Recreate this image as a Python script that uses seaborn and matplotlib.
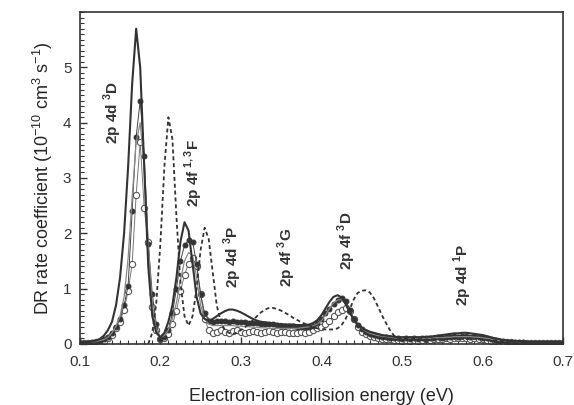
import numpy as np
import pandas as pd
import matplotlib
matplotlib.use('Agg')
import matplotlib.pyplot as plt
from matplotlib.ticker import MultipleLocator
import seaborn as sns

# energy grid (eV), 0.005 steps from 0.10 to 0.70
energy = np.round(np.arange(0.100, 0.7001, 0.005), 3)

# theory, thick solid
theory_a = [
    0.02, 0.02, 0.03, 0.04, 0.06, 0.09, 0.15, 0.25, 0.40, 0.70,
    1.20, 2.00, 3.20, 4.70, 5.70, 5.00, 3.20, 1.40, 0.50, 0.20,
    0.12, 0.20, 0.40, 0.70, 1.20, 1.85, 2.20, 2.05, 1.45, 0.85,
    0.55, 0.45, 0.42, 0.45, 0.50, 0.55, 0.59, 0.62, 0.62, 0.60,
    0.57, 0.53, 0.49, 0.45, 0.42, 0.40, 0.39, 0.38, 0.37, 0.36,
    0.36, 0.35, 0.35, 0.35, 0.34, 0.34, 0.34, 0.35, 0.38, 0.43,
    0.52, 0.64, 0.76, 0.85, 0.88, 0.84, 0.72, 0.57, 0.44, 0.35,
    0.29, 0.25, 0.22, 0.20, 0.18, 0.16, 0.15, 0.14, 0.13, 0.12,
    0.12, 0.12, 0.12, 0.12, 0.12, 0.12, 0.13, 0.13, 0.14, 0.15,
    0.16, 0.17, 0.18, 0.19, 0.19, 0.20, 0.20, 0.19, 0.18, 0.17,
    0.16, 0.14, 0.12, 0.10, 0.09, 0.07, 0.06, 0.05, 0.05, 0.04,
    0.04, 0.03, 0.03, 0.03, 0.03, 0.02, 0.02, 0.02, 0.02, 0.02,
    0.02,
]

# theory, dashed (starts at 0.185 eV)
nan = np.nan
theory_b = [
    nan, nan, nan, nan, nan, nan, nan, nan, nan, nan,
    nan, nan, nan, nan, nan, nan, nan, 0.00, 0.20, 0.75,
    1.80, 3.20, 4.10, 3.70, 2.30, 1.10, 0.50, 0.33, 0.50, 1.00,
    1.70, 2.10, 1.90, 1.30, 0.70, 0.40, 0.25, 0.20, 0.18, 0.20,
    0.25, 0.30, 0.36, 0.43, 0.50, 0.57, 0.62, 0.65, 0.65, 0.63,
    0.60, 0.56, 0.52, 0.47, 0.43, 0.39, 0.36, 0.33, 0.30, 0.28,
    0.27, 0.26, 0.26, 0.26, 0.28, 0.34, 0.45, 0.62, 0.80, 0.92,
    0.96, 0.97, 0.93, 0.83, 0.68, 0.52, 0.38, 0.25, 0.15, 0.11,
    0.10, 0.10, 0.09, 0.09, 0.09, 0.08, 0.08, 0.08, 0.08, 0.08,
    0.08, 0.08, 0.09, 0.09, 0.09, 0.09, 0.09, 0.09, 0.09, 0.08,
    0.08, 0.07, 0.07, 0.06, 0.05, 0.05, 0.04, 0.04, 0.03, 0.03,
    0.03, 0.03, 0.03, 0.02, 0.02, 0.02, 0.02, 0.02, 0.02, 0.02,
    0.02,
]

# theory convolved, thin grey solid
theory_c = [
    0.02, 0.02, 0.02, 0.03, 0.04, 0.06, 0.08, 0.12, 0.20, 0.32,
    0.50, 0.85, 1.55, 2.65, 3.65, 4.00, 3.20, 1.80, 0.70, 0.25,
    0.12, 0.15, 0.25, 0.45, 0.75, 1.15, 1.50, 1.65, 1.60, 1.20,
    0.70, 0.45, 0.36, 0.33, 0.33, 0.33, 0.33, 0.33, 0.33, 0.32,
    0.32, 0.31, 0.31, 0.30, 0.30, 0.29, 0.29, 0.28, 0.28, 0.28,
    0.28, 0.28, 0.28, 0.28, 0.28, 0.29, 0.30, 0.31, 0.33, 0.36,
    0.42, 0.52, 0.64, 0.74, 0.79, 0.80, 0.72, 0.58, 0.44, 0.35,
    0.28, 0.23, 0.19, 0.17, 0.15, 0.14, 0.13, 0.12, 0.11, 0.10,
    0.10, 0.10, 0.10, 0.10, 0.10, 0.10, 0.10, 0.10, 0.11, 0.11,
    0.11, 0.12, 0.12, 0.13, 0.13, 0.13, 0.13, 0.13, 0.12, 0.12,
    0.11, 0.10, 0.09, 0.07, 0.06, 0.05, 0.05, 0.04, 0.04, 0.03,
    0.03, 0.03, 0.02, 0.02, 0.02, 0.02, 0.02, 0.02, 0.02, 0.02,
    0.02,
]

# experiment, filled circles
exp_filled = [
    0.02, 0.02, 0.02, 0.03, 0.04, 0.05, 0.08, 0.12, 0.20, 0.30,
    0.45, 0.70, 1.05, 2.40, 3.75, 4.40, 3.40, 1.80, 0.90, 0.35,
    0.08, 0.12, 0.25, 0.55, 1.00, 1.50, 1.78, 1.88, 1.85, 1.45,
    0.90, 0.55, 0.42, 0.40, 0.42, 0.41, 0.42, 0.40, 0.42, 0.40,
    0.40, 0.39, 0.38, 0.38, 0.37, 0.36, 0.36, 0.35, 0.35, 0.34,
    0.33, 0.33, 0.32, 0.32, 0.31, 0.31, 0.30, 0.31, 0.33, 0.38,
    0.45, 0.55, 0.63, 0.72, 0.80, 0.83, 0.78, 0.62, 0.45, 0.34,
    0.27, 0.22, 0.18, 0.16, 0.14, 0.13, 0.12, 0.11, 0.10, 0.10,
    0.09, 0.10, 0.08, 0.10, 0.09, 0.10, 0.09, 0.11, 0.10, 0.12,
    0.11, 0.13, 0.12, 0.14, 0.13, 0.15, 0.14, 0.13, 0.14, 0.12,
    0.11, 0.10, 0.08, 0.07, 0.06, 0.05, 0.04, 0.04, 0.03, 0.03,
    0.03, 0.02, 0.02, 0.02, 0.02, 0.02, 0.02, 0.02, 0.02, 0.02,
    0.02,
]

# experiment, open circles
exp_open = [
    0.01, 0.01, 0.02, 0.02, 0.03, 0.04, 0.06, 0.10, 0.16, 0.28,
    0.40, 0.62, 0.95, 1.45, 2.70, 3.65, 2.45, 1.85, 0.67, 0.25,
    0.08, 0.10, 0.18, 0.35, 0.60, 0.95, 1.25, 1.45, 1.55, 1.40,
    0.90, 0.45, 0.25, 0.20, 0.22, 0.25, 0.22, 0.20, 0.23, 0.25,
    0.22, 0.20, 0.22, 0.24, 0.22, 0.20, 0.22, 0.23, 0.21, 0.20,
    0.21, 0.22, 0.20, 0.19, 0.20, 0.21, 0.20, 0.22, 0.25, 0.28,
    0.30, 0.35, 0.42, 0.50, 0.57, 0.62, 0.65, 0.60, 0.45, 0.30,
    0.22, 0.17, 0.14, 0.12, 0.10, 0.09, 0.08, 0.08, 0.07, 0.07,
    0.06, 0.07, 0.06, 0.07, 0.06, 0.07, 0.08, 0.07, 0.08, 0.09,
    0.08, 0.10, 0.09, 0.11, 0.10, 0.11, 0.10, 0.09, 0.10, 0.09,
    0.08, 0.07, 0.06, 0.05, 0.04, 0.04, 0.03, 0.03, 0.02, 0.02,
    0.02, 0.02, 0.02, 0.02, 0.02, 0.02, 0.02, 0.02, 0.02, 0.02,
    0.02,
]

# resonance labels
res_labels = [r'2p 4d $^{\mathbf{3}}$D', r'2p 4f $^{\mathbf{1,3}}$F', r'2p 4d $^{\mathbf{3}}$P',
              r'2p 4f $^{\mathbf{3}}$G', r'2p 4f $^{\mathbf{3}}$D', r'2p 4d $^{\mathbf{1}}$P']
res_x = [0.141, 0.241, 0.290, 0.357, 0.431, 0.576]
res_y = [4.19, 3.10, 1.57, 1.57, 1.86, 1.25]

sns.set_style('ticks')
plt.rcParams['font.family'] = ['Liberation Sans', 'DejaVu Sans']
plt.rcParams['mathtext.fontset'] = 'custom'
plt.rcParams['mathtext.rm'] = 'Liberation Sans'
plt.rcParams['mathtext.bf'] = 'Liberation Sans:bold'

df = pd.DataFrame({'E': energy, 'a': theory_a, 'b': theory_b, 'c': theory_c,
                   'f': exp_filled, 'o': exp_open})

fig = plt.figure(figsize=(5.74, 4.05), dpi=100)
ax = fig.add_axes([0.139, 0.151, 0.842, 0.819])

sns.lineplot(data=df, x='E', y='o', ax=ax, color='#777777', lw=0.7, marker='o',
             markersize=4.5, markerfacecolor='white', markeredgecolor='#555555',
             markeredgewidth=0.8)
sns.lineplot(data=df, x='E', y='f', ax=ax, color='#444444', lw=0.7, marker='o',
             markersize=3.5, markerfacecolor='#333333', markeredgecolor='#333333')
sns.lineplot(data=df, x='E', y='c', ax=ax, color='#888888', lw=0.9)
sns.lineplot(data=df.dropna(), x='E', y='b', ax=ax, color='#333333', lw=1.3,
             linestyle=(0, (2.2, 1.6)))
sns.lineplot(data=df, x='E', y='a', ax=ax, color='#333333', lw=1.5)

for lab, x, y in zip(res_labels, res_x, res_y):
    ax.text(x, y, lab, rotation=90, ha='center', va='center', fontsize=11,
            fontweight='bold', color='#333333')

ax.set_xlim(0.1, 0.7)
ax.set_ylim(0, 6)
ax.xaxis.set_minor_locator(MultipleLocator(0.01))
ax.yaxis.set_minor_locator(MultipleLocator(0.1))
ax.set_yticks([0, 1, 2, 3, 4, 5])
ax.set_xticks([0.1, 0.2, 0.3, 0.4, 0.5, 0.6, 0.7])
ax.set_xticklabels(['0.1', '0.2', '0.3', '0.4', '0.5', '0.6', '0.7'])
ax.tick_params(which='both', direction='in', colors='#333333', labelsize=11)
ax.tick_params(which='major', length=5, width=1)
ax.tick_params(which='minor', length=3, width=0.8)
ax.tick_params(axis='x', which='major', pad=8)
ax.tick_params(axis='y', which='major', pad=6)
for s in ax.spines.values():
    s.set_color('#333333')
    s.set_linewidth(1.2)

ax.set_xlabel('Electron-ion collision energy (eV)', fontsize=13, labelpad=14)
ax.set_ylabel(r'DR rate coefficient (10$^{-10}$ cm$^{3}$ s$^{-1}$)', fontsize=13, labelpad=6)

fig.savefig('out.png', dpi=100)
plt.close(fig)
